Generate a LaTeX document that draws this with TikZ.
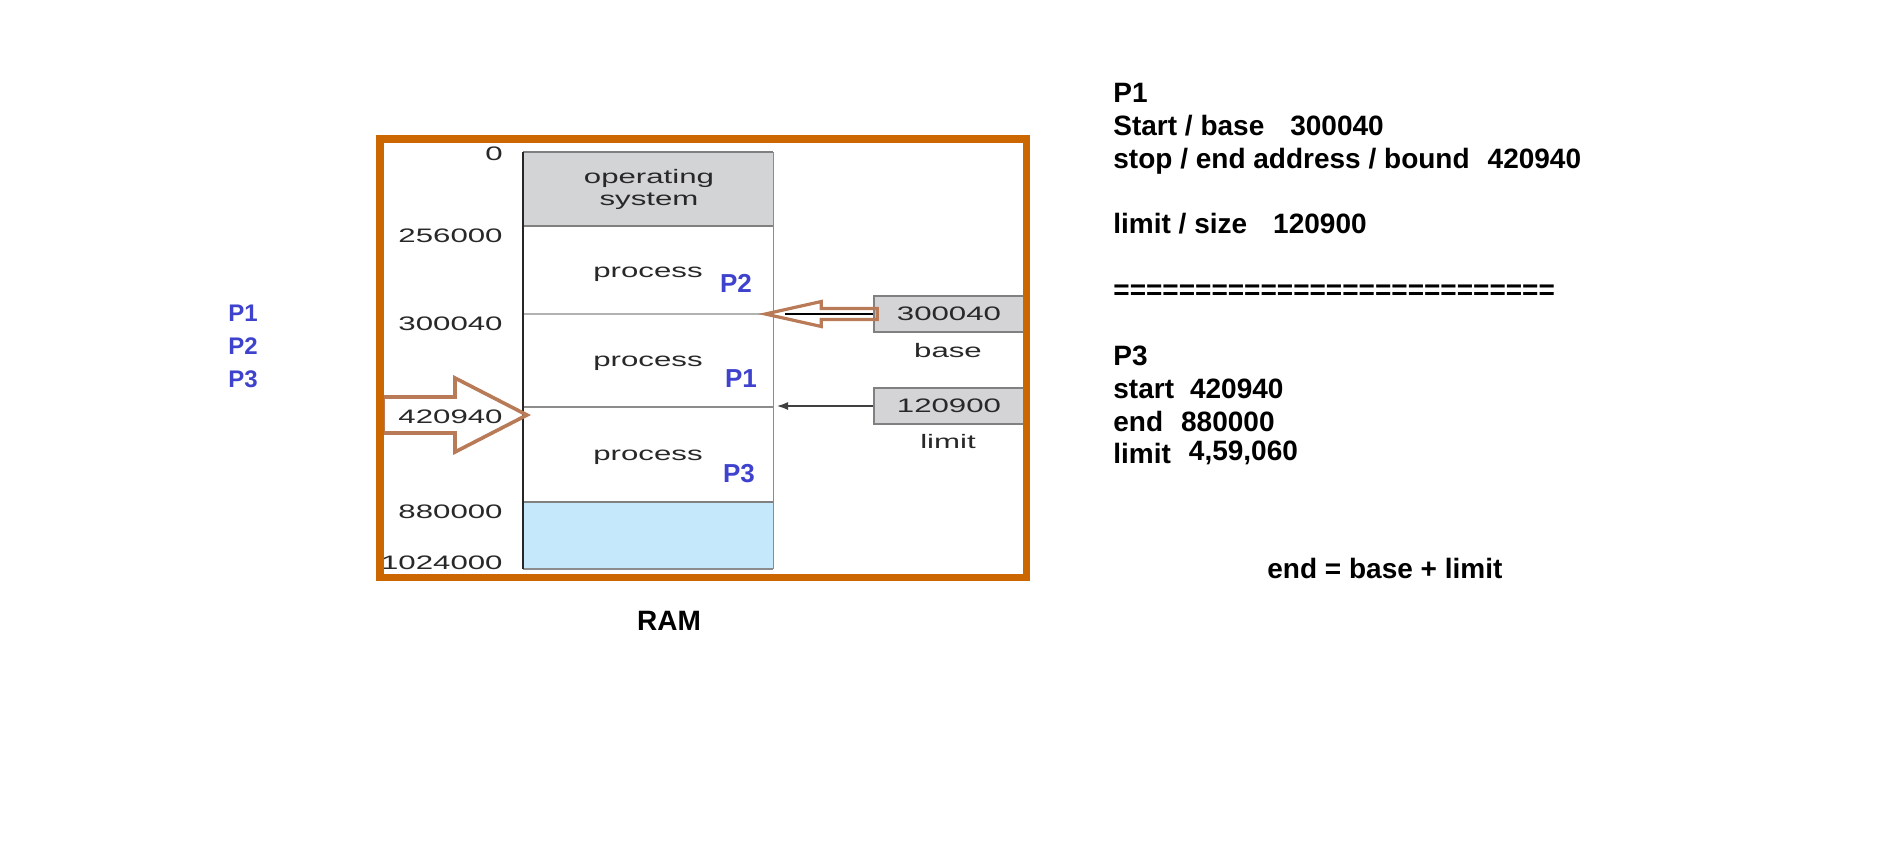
\documentclass[tikz,border=0pt]{standalone}
\usepackage{fontspec}
\setmainfont{Liberation Sans}
\usepackage{graphicx}
\usetikzlibrary{arrows.meta}
\definecolor{frameorange}{RGB}{204,102,0}
\definecolor{arrowbrown}{RGB}{185,122,87}
\definecolor{osgray}{RGB}{210,212,214}
\definecolor{freeblue}{RGB}{197,232,250}
\definecolor{tagblue}{RGB}{62,66,204}
\definecolor{inkgray}{RGB}{40,40,40}
\definecolor{regfill}{RGB}{212,212,214}
\newcommand{\wide}[1]{\scalebox{1.6}[1]{#1}}
\begin{document}
\begin{tikzpicture}[x=0.5pt,y=-0.5pt]

      \tikzset{memtext/.style={font=\fontsize{9.75}{11}\selectfont, text=inkgray, inner sep=0pt},
               addr/.style={memtext, anchor=base east},
               tag/.style={font=\fontsize{13}{15}\selectfont\bfseries, text=tagblue, inner sep=0pt, anchor=base},
               note/.style={font=\fontsize{14}{16}\selectfont\bfseries, inner sep=0pt, anchor=base west},
               regbox/.style={draw=black!50, fill=regfill, line width=0.7pt, inner sep=0pt, minimum width=75pt, minimum height=18pt},
               partline/.style={line width=1pt, draw=black!50},
               hollow/.style={draw=arrowbrown, line width=1.6pt, line join=miter}}
      \useasboundingbox (0,0) rectangle (1894,848);
      \fill[white] (0,0) rectangle (1894,848);
%% Memory column
      	\fill[osgray] (523,152) rectangle (773,226);
      	\fill[freeblue] (523,502) rectangle (773,569);
      	\draw[black!45, line width=0.5pt] (773,152) -- (773,569);
      	\draw[partline] (523,152) -- (773,152);
      	\draw[partline] (523,226) -- (773,226);
      	\draw[black!30, line width=0.7pt] (523,314) -- (773,314);
      	\draw[partline, line width=1.3pt, draw=black!45] (523,407) -- (773,407);
      	\draw[partline] (523,502) -- (773,502);
      	\draw[partline, draw=black!45] (523,569) -- (773,569);
      	\draw[black!85, line width=1.3pt] (523,152) -- (523,569);
%% Partition texts
      	\node[memtext, anchor=base] (os1) at (649,183) {\wide{operating}};
      	\node[memtext, anchor=base] (os2) at (649,205) {\wide{system}};
      	\node[memtext, anchor=base] (proc2) at (648,277) {\wide{process}};
      	\node[memtext, anchor=base] (proc1) at (648,366) {\wide{process}};
      	\node[memtext, anchor=base] (proc3) at (648,460) {\wide{process}};
      	\node[tag] (p2) at (736,292) {P2};
      	\node[tag] (p1) at (741,387) {P1};
      	\node[tag] (p3) at (739,482) {P3};
%% Addresses
      	\node[addr] (a0) at (503,160) {\wide{0}};
      	\node[addr] (a1) at (503,242) {\wide{256000}};
      	\node[addr] (a2) at (503,330) {\wide{300040}};
      	\node[addr] (a3) at (503,423) {\wide{420940}};
      	\node[addr] (a4) at (503,518) {\wide{880000}};
      	\node[addr] (a5) at (503,569) {\wide{1024000}};
%% Registers
      	\node[regbox] (base) at (949,314) {};
      	\node[regbox] (limit) at (949,406) {};
      	\node[memtext] at (base) {\wide{300040}};
      	\node[memtext] at (limit) {\wide{120900}};
      	\node[memtext, anchor=base] (basel) at (948,357) {\wide{base}};
      	\node[memtext, anchor=base] (limitl) at (948,448) {\wide{limit}};
      	\coordinate (basetip) at (785,314);
      	\coordinate (limittip) at (776,406);
%Arrows
		\draw[black, line width=0.6pt] (base.west) -- (basetip);
		\draw[-{Latex[length=6pt,width=4pt]}, black!75, line width=1.2pt] (limit.west) -- (limittip);
		\draw[hollow] (base.west) ++(4,-5.5) -- ++(-56,0) -- ++(0,-7) -- ++(-56,12.5) -- ++(56,12.5) -- ++(0,-7) -- ++(56,0) -- cycle;
		\coordinate (bigtip) at (527,415);
		\draw[hollow, line width=1.8pt] (bigtip) -- ++(-72,-37) -- ++(0,19) -- ++(-72,0) -- ++(0,36) -- ++(72,0) -- ++(0,19) -- cycle;
%% Frame
		\draw[frameorange, line width=3.6pt] (380,139) rectangle (1026.5,577.5);
		\node[note, anchor=base] (ram) at (669,630) {RAM};
%% Left tags
      	\node[tag, anchor=base west, font=\fontsize{12}{14}\selectfont\bfseries] (l1) at (228,321) {P1};
      	\node[tag, anchor=base west, font=\fontsize{12}{14}\selectfont\bfseries] (l2) at (228,354) {P2};
      	\node[tag, anchor=base west, font=\fontsize{12}{14}\selectfont\bfseries] (l3) at (228,387) {P3};
%% Notes
      	\node[note] (n1) at (1113,102) {P1};
      	\node[note] (n2) at (1113,135) {Start / base\hspace{13pt}300040};
      	\node[note] (n3) at (1113,168) {stop / end address / bound\hspace{9pt}420940};
      	\node[note] (n4) at (1113,233) {limit / size\hspace{13pt}120900};
      	\node[note] (n5) at (1113,299) {===========================};
      	\node[note] (n6) at (1113,365) {P3};
      	\node[note] (n7) at (1113,398) {start\hspace{8pt}420940};
      	\node[note] (n8) at (1113,431) {end\hspace{9pt}880000};
      	\node[note] (n9) at (1113,463) {limit\hspace{9pt}\raisebox{1.5pt}{4,59,060}};
      	\node[note] (n10) at (1267,578) {end = base + limit};

	\end{tikzpicture}
\end{document}
